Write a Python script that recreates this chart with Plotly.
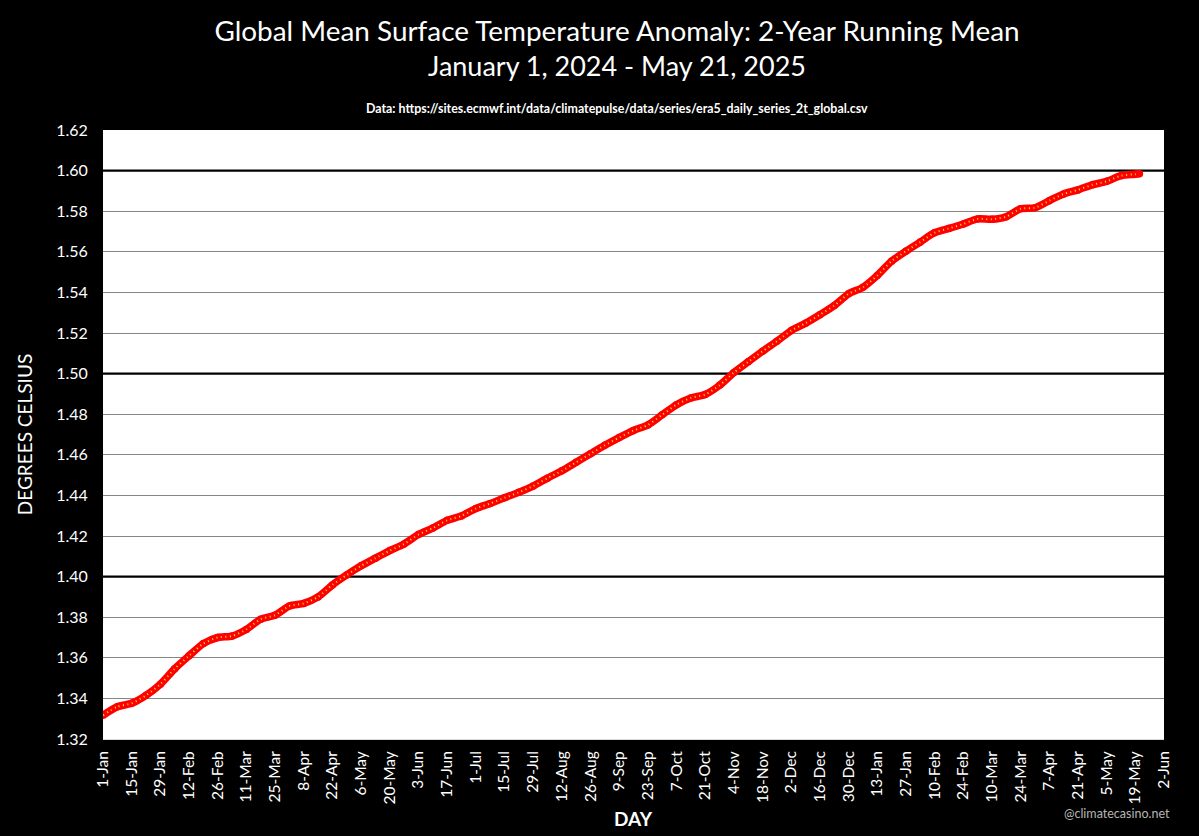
from datetime import date, timedelta

import plotly.graph_objects as go

# weekly readings from the picture, starting 1 Jan 2024, plus the last day
anomaly = [
    1.3317, 1.3359, 1.3376, 1.3415, 1.3470, 1.3546, 1.3610, 1.3670, 1.3700, 1.3707,
    1.3740, 1.3790, 1.3810, 1.3855, 1.3868, 1.3900, 1.3959, 1.4008, 1.4053, 1.4091,
    1.4128, 1.4161, 1.4207, 1.4239, 1.4277, 1.4299, 1.4335, 1.4360, 1.4388, 1.4415,
    1.4446, 1.4485, 1.4521, 1.4563, 1.4605, 1.4647, 1.4685, 1.4720, 1.4747, 1.4797,
    1.4847, 1.4880, 1.4897, 1.4942, 1.5005, 1.5058, 1.5110, 1.5159, 1.5212, 1.5248,
    1.5290, 1.5335, 1.5393, 1.5425, 1.5483, 1.5554, 1.5603, 1.5648, 1.5694, 1.5715,
    1.5737, 1.5762, 1.5760, 1.5773, 1.5812, 1.5817, 1.5852, 1.5885, 1.5905, 1.5930,
    1.5947, 1.5975, 1.5982, 1.5985,
]

start = date(2024, 1, 1)
days = [start + timedelta(days=7 * i) for i in range(len(anomaly) - 1)]
days.append(date(2025, 5, 21))

tick_days = [start + timedelta(days=14 * i) for i in range(38)]
tick_labels = [f"{d.day}-{d.strftime('%b')}" for d in tick_days]
heavy_lines = [1.40, 1.50, 1.60]

FONT = "Lato"

fig = go.Figure()

# heavy reference lines sit under the series, so they are traces and not shapes
for level in heavy_lines:
    fig.add_trace(
        go.Scatter(
            x=[start, tick_days[-1]],
            y=[level, level],
            mode="lines",
            line=dict(color="black", width=2.2),
            hoverinfo="skip",
        )
    )

# daily markers overlap into a solid band in the original
fig.add_trace(
    go.Scatter(
        x=days,
        y=anomaly,
        mode="lines+markers",
        line=dict(color="#ff0000", width=7.5, shape="spline", smoothing=0.7),
        marker=dict(color="#ff0000", size=7.5),
        hoverinfo="skip",
    )
)
fig.add_trace(
    go.Scatter(
        x=days,
        y=anomaly,
        mode="lines",
        line=dict(color="#ffe600", width=2, dash="1px,3.5px", shape="spline", smoothing=0.7),
    )
)

fig.update_layout(
    width=1199,
    height=836,
    autosize=False,
    showlegend=False,
    paper_bgcolor="black",
    plot_bgcolor="white",
    margin=dict(l=103, r=35, t=130, b=97),
    font=dict(family=FONT, color="white"),
    title=dict(
        text=(
            '<span style="font-size:27.9px">Global Mean Surface Temperature Anomaly: 2-Year Running Mean</span>'
            "<br>January 1, 2024 - May 21, 2025"
        ),
        font=dict(size=27, color="white", family=FONT),
        x=617 / 1199,
        xanchor="center",
        y=1 - 41 / 836,
        yanchor="middle",
    ),
)

fig.update_xaxes(
    type="date",
    range=[start, tick_days[-1]],
    tickmode="array",
    tickvals=tick_days,
    ticktext=tick_labels,
    tickangle=-90,
    tickfont=dict(size=15.5, color="white"),
    ticks="outside",
    ticklen=5,
    tickcolor="black",
    showgrid=False,
    showline=True,
    linecolor="#d9d9d9",
    zeroline=False,
    automargin=False,
)
fig.update_yaxes(
    range=[1.32, 1.62],
    dtick=0.02,
    tick0=1.32,
    tickformat=".2f",
    tickfont=dict(size=16, color="white"),
    ticks="outside",
    ticklen=11,
    tickcolor="black",
    showgrid=True,
    gridcolor="#868686",
    gridwidth=1,
    zeroline=False,
    title=dict(text="DEGREES CELSIUS", font=dict(size=19, color="white"), standoff=18),
)

fig.add_annotation(
    text="<b>Data: https://sites.ecmwf.int/data/climatepulse/data/series/era5_daily_series_2t_global.csv</b>",
    xref="paper",
    yref="paper",
    x=(617 - 103) / 1061,
    y=(836 - 97 - 108) / 609,
    yanchor="middle",
    showarrow=False,
    font=dict(size=12.4, color="white"),
)
fig.add_annotation(
    text="<b>DAY</b>",
    xref="paper",
    yref="paper",
    x=(633 - 103) / 1061,
    y=(836 - 97 - 818) / 609,
    yanchor="middle",
    showarrow=False,
    font=dict(size=19, color="white"),
)
fig.add_annotation(
    text="@climatecasino.net",
    xref="paper",
    yref="paper",
    x=(1172 - 103) / 1061,
    xanchor="right",
    y=(836 - 97 - 813) / 609,
    yanchor="middle",
    showarrow=False,
    font=dict(size=12.5, color="#b5b5b5"),
)

fig.write_html(
    "out.html",
    config={"displayModeBar": False},
    post_script="document.body.style.margin='0';document.body.style.background='black';",
)
